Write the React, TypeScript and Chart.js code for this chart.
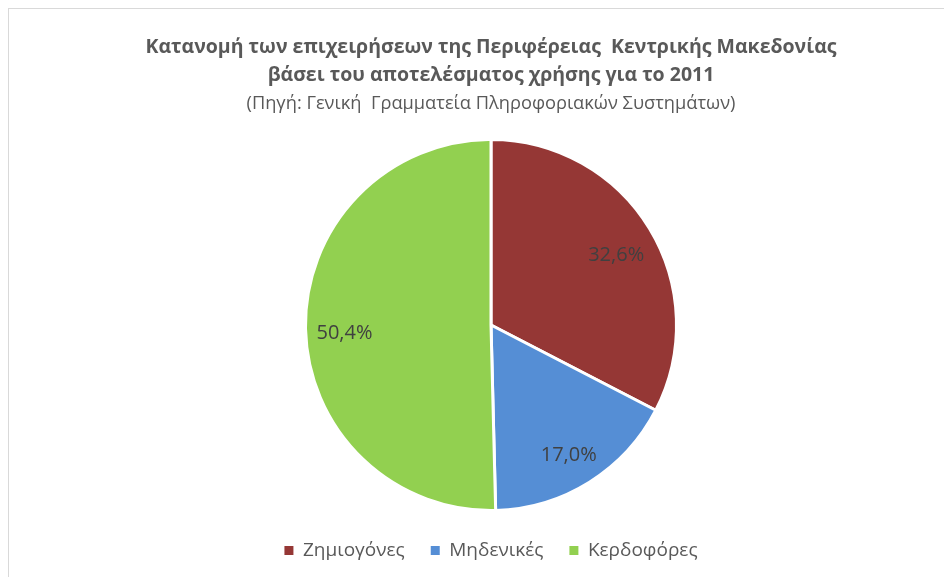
import React, { useEffect, useRef } from "react";
import { Chart, registerables } from "chart.js";

Chart.register(...registerables);

const titleLines = [
  "Κατανομή των επιχειρήσεων της Περιφέρειας  Κεντρικής Μακεδονίας",
  "βάσει του αποτελέσματος χρήσης για το 2011",
];
const subtitleText = "(Πηγή: Γενική  Γραμματεία Πληροφοριακών Συστημάτων)";
const categories = ["Ζημιογόνες", "Μηδενικές", "Κερδοφόρες"];
const shares = [32.6, 17.0, 50.4];
const sliceColors = ["#953735", "#558ED5", "#92D050"];

const FONT = "'Open Sans', 'Noto Sans', sans-serif";

const sliceLabels = {
  id: "sliceLabels",
  afterDatasetsDraw(chart: any) {
    const ctx = chart.ctx;
    const meta = chart.getDatasetMeta(0);
    const data = chart.data.datasets[0].data as number[];
    ctx.save();
    ctx.font = `20px ${FONT}`;
    ctx.fillStyle = "#404040";
    ctx.textAlign = "center";
    ctx.textBaseline = "middle";
    meta.data.forEach((arc: any, i: number) => {
      const p = arc.getProps(["x", "y", "startAngle", "endAngle", "outerRadius"], true);
      const mid = (p.startAngle + p.endAngle) / 2;
      const r = p.outerRadius * 0.79;
      const x = p.x + Math.cos(mid) * r;
      const y = p.y + Math.sin(mid) * r + 6;
      ctx.fillText(data[i].toFixed(1).replace(".", ",") + "%", x, y);
    });
    ctx.restore();
  },
};

export default function App() {
  const ref = useRef<HTMLCanvasElement>(null);
  useEffect(() => {
    if (!ref.current) return;
    const chart = new Chart(ref.current, {
      type: "pie",
      data: {
        labels: categories,
        datasets: [
          {
            data: shares,
            backgroundColor: sliceColors,
            borderColor: "#ffffff",
            borderWidth: 3,
            radius: 185.5,
          } as any,
        ],
      },
      options: {
        responsive: false,
        animation: false,
        events: [],
        layout: { padding: { left: 21, right: 0, top: 0, bottom: 7 } },
        plugins: {
          title: {
            display: true,
            text: titleLines,
            color: "#595959",
            font: { family: FONT, size: 19.5, weight: "bold", lineHeight: 28 / 19.5 },
            padding: { top: 24, bottom: 0 },
          },
          subtitle: {
            display: true,
            text: subtitleText,
            color: "#595959",
            font: { family: FONT, size: 18.25, weight: "normal", lineHeight: 24 / 18.25 },
            padding: { top: 3, bottom: 19 },
          },
          legend: {
            display: true,
            position: "bottom",
            labels: {
              color: "#595959",
              font: { family: FONT, size: 19 },
              boxWidth: 9,
              boxHeight: 9,
              padding: 26,
              generateLabels(chart: any) {
                const base = (Chart as any).overrides.pie.plugins.legend.labels.generateLabels(chart);
                return base.map((l: any) => ({ ...l, lineWidth: 0, strokeStyle: "rgba(0,0,0,0)" }));
              },
            },
          },
          tooltip: { enabled: false },
        },
      },
      plugins: [sliceLabels],
    });
    return () => chart.destroy();
  }, []);
  return (
    <div
      style={{
        width: 943,
        height: 568,
        borderTop: "1px solid #d9d9d9",
        borderLeft: "1px solid #d9d9d9",
        background: "#ffffff",
      }}
    >
      <canvas ref={ref} width={943} height={568} style={{ display: "block" }} />
    </div>
  );
}
